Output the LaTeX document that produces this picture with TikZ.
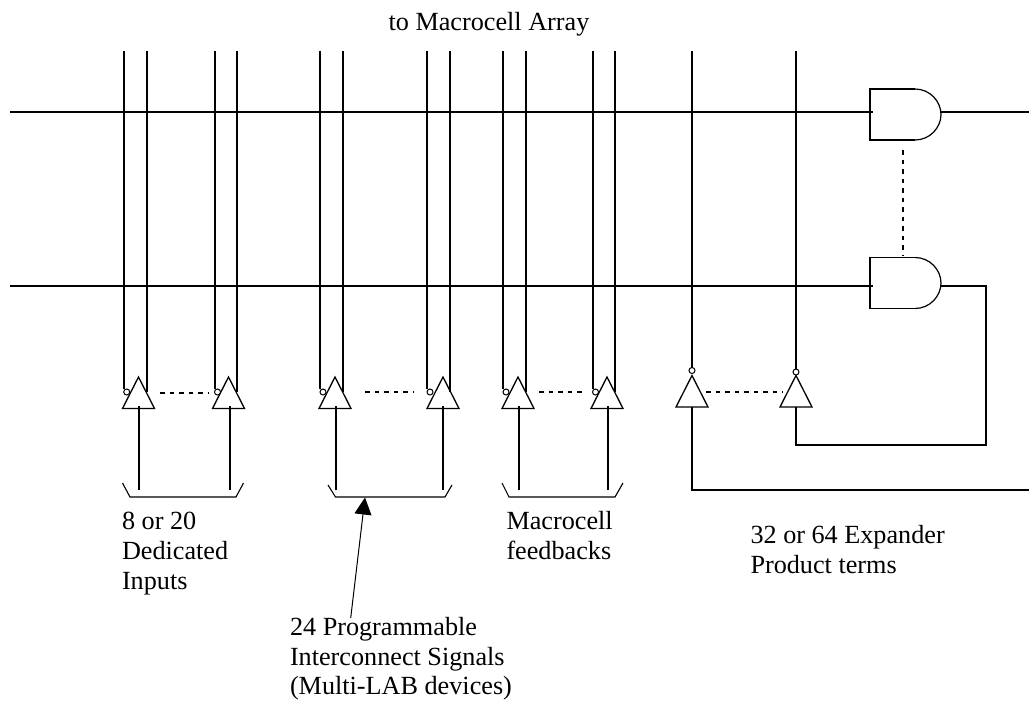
\documentclass[tikz,border=0pt]{standalone}
\usepackage{fontspec}
\setmainfont{Liberation Serif}
\usetikzlibrary{arrows.meta}
\tikzset{
  x=1pt,y=-1pt,
  wire/.style={line width=1.5pt,line join=miter},
  dots/.style={line width=1.5pt,dash pattern=on 4.5pt off 5pt},
  lbl/.style={inner sep=0pt,outer sep=0pt,align=left,anchor=north west,font=\fontsize{26.2}{29.8}\selectfont},
  bubble/.style={line width=1pt,fill=white},
  buf/.pic={
    \coordinate (-base) at (0,0);
    \draw[line width=1.3pt,fill=white] (-16,0) -- (0,-31.5) -- (16,0) -- cycle;
  },
  andg/.pic={
    \coordinate (-in) at (3,0);
    \coordinate (-out) at (71,0);
    \draw[line width=1.7pt] (45,-25.5) -- (0,-25.5) -- (0,25.5) -- (45,25.5);
    \draw[line width=1.2pt] (45,25.5)
      .. controls (60,25.5) and (71,13) .. (71,0)
      .. controls (71,-13) and (60,-25.5) .. (45,-25.5);
  }
}
\begin{document}
\begin{tikzpicture}
\useasboundingbox (0,0) rectangle (1029,702);
% gates
\pic (and1) at (870,114.5) {andg};
\pic (and2) at (870,283) {andg};
% free ends
\coordinate (h1a) at (10,112);
\coordinate (h2a) at (10,286);
\coordinate (o1) at (1029,112);
\coordinate (o3) at (1029,490);
\coordinate (r1) at (986,286);
\coordinate (r2) at (986,445);
% buffers
\pic (b1) at (138.5,408.5) {buf};
\pic (b2) at (228.5,408.5) {buf};
\pic (b3) at (335,408.5) {buf};
\pic (b4) at (443,408.5) {buf};
\pic (b5) at (518,408.5) {buf};
\pic (b6) at (607,408.5) {buf};
\pic (b7) at (692,407) {buf};
\pic (b8) at (796,407) {buf};
% vertical bus lines
\foreach \xa/\ya in {124/389,147/392,215/389,237/392,320/389,343/392,427/389,450/392,503/389,526/392,593/389,615/392,692/368,796/369}{
  \draw[wire] (\xa,50.5) -- (\xa,\ya);
}
% horizontal lines
\draw[wire] (h1a) -- (h1a -| and1-in);
\draw[wire] (h2a) -- (h2a -| and2-in);
\draw[wire] (o1 -| and1-out) -- (o1);
\draw[wire] (r1 -| and2-out) -- (r1) -- (r2) -- (r2 -| b8-base) -- (b8-base);
\draw[wire] (b7-base) -- (o3 -| b7-base) -- (o3);
% bubbles
\foreach \xb/\yb in {126.7/392,217.5/392,323/392,430/392,506/392,595.5/392,692/370.5,796/372}{
  \draw[bubble] (\xb,\yb) circle (3pt);
}
% input stems
\foreach \xs in {139,230,336,443,519,608}{
  \draw[wire] (\xs,406) -- (\xs,490);
}
% dashes
\draw[dots] (160,393) -- (208,393);
\draw[dots] (365,392) -- (413,392);
\draw[dots] (539,392) -- (586,392);
\draw[dots] (706,392) -- (783,392);
\draw[dots] (903,150) -- (903,256);
% brackets
\draw[line width=1.1pt] (122.5,483) -- (130,497) -- (236,497) -- (243.5,483);
\draw[line width=1.1pt] (328,485) -- (335.5,497) -- (445,497) -- (452,485);
\draw[line width=1.1pt] (502,483) -- (509,497) -- (615,497) -- (623,483);
% labels
\node[inner sep=0pt,anchor=base,font=\fontsize{26.2}{29.8}\selectfont] (title) at (489,30) {to Macrocell Array};
\node[lbl] (l1) at (122,512.4) {8 or 20\\Dedicated\\Inputs};
\node[lbl] (l2) at (506.5,511.5) {Macrocell\\feedbacks};
\node[lbl] (l3) at (750.5,525.7) {32 or 64 Expander\\Product terms};
\node[lbl] (l4) at (290,617.2) {24 Programmable\\Interconnect Signals\\(Multi-LAB devices)};
% arrow
\coordinate (arrS) at (350.7,618);
\coordinate (arrE) at (365,497.5);
\draw[line width=1pt,-{Triangle[length=17pt,width=17pt]}] (arrS) -- (arrE);
\end{tikzpicture}
\end{document}
